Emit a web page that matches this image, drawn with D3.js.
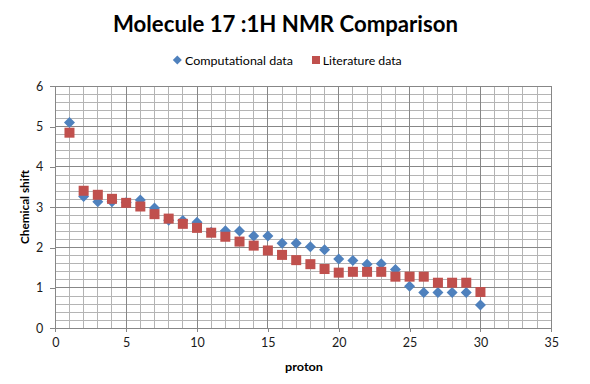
<!DOCTYPE html>
<html>
<head>
<meta charset="utf-8">
<script src="https://cdn.jsdelivr.net/npm/d3@7/dist/d3.min.js"></script>
<style>
  html, body { margin: 0; padding: 0; background: #fff; }
  svg { display: block; }
  text { font-family: Lato, "Open Sans", "Liberation Sans", sans-serif; }
</style>
</head>
<body>
<svg id="chart" width="590" height="384"></svg>
<script>
const titleText = "Molecule 17 :1H NMR Comparison";
const xAxisTitle = "proton";
const yAxisTitle = "Chemical shift";
const seriesNames = ["Computational data", "Literature data"];
const protons = [1,2,3,4,5,6,7,8,9,10,11,12,13,14,15,16,17,18,19,20,21,22,23,24,25,26,27,28,29,30];
const computational = [5.10,3.27,3.14,3.14,3.12,3.18,2.98,2.68,2.67,2.63,2.38,2.42,2.41,2.29,2.29,2.11,2.11,2.02,1.95,1.72,1.68,1.59,1.60,1.46,1.04,0.89,0.89,0.89,0.89,0.58];
const literature = [4.85,3.41,3.31,3.21,3.11,3.02,2.83,2.72,2.59,2.49,2.37,2.27,2.15,2.05,1.93,1.82,1.69,1.59,1.47,1.38,1.40,1.40,1.40,1.28,1.28,1.28,1.13,1.13,1.13,0.90];
const xTicks = [0,5,10,15,20,25,30,35];
const yTicks = [0,1,2,3,4,5,6];

const blue = "#4F81BD", red = "#C0504D";
const majorGrid = "#878787", minorGrid = "#b4b4b4";

const svg = d3.select("#chart");
const L = 55.3, R = 551.3, T = 86.3, B = 328.3;
const x = d3.scaleLinear().domain([0, 35]).range([L, R]);
const y = d3.scaleLinear().domain([0, 6]).range([B, T]);

// minor grid
const gMinor = svg.append("g").attr("stroke", minorGrid).attr("stroke-width", 1).attr("shape-rendering", "crispEdges");
gMinor.selectAll("line.vx").data(d3.range(1, 35).filter(v => v % 5 !== 0)).join("line")
  .attr("x1", d => x(d)).attr("x2", d => x(d)).attr("y1", T).attr("y2", B);
gMinor.selectAll("line.hy").data(d3.range(1, 30).filter(v => v % 5 !== 0).map(v => v / 5)).join("line")
  .attr("y1", d => y(d)).attr("y2", d => y(d)).attr("x1", L).attr("x2", R);

// major grid
const gMajor = svg.append("g").attr("stroke", majorGrid).attr("stroke-width", 1).attr("shape-rendering", "crispEdges");
gMajor.selectAll("line.v").data(xTicks.slice(1)).join("line")
  .attr("x1", d => x(d)).attr("x2", d => x(d)).attr("y1", T).attr("y2", B);
gMajor.selectAll("line.h").data(yTicks.slice(1)).join("line")
  .attr("y1", d => y(d)).attr("y2", d => y(d)).attr("x1", L).attr("x2", R);

// axes
const xAxis = d3.axisBottom(x).tickValues(xTicks).tickFormat(d3.format("d")).tickSize(4).tickPadding(6);
const gx = svg.append("g").attr("transform", `translate(0,${B})`).call(xAxis);
const yAxis = d3.axisLeft(y).tickValues(yTicks).tickFormat(d3.format("d")).tickSize(5).tickPadding(7);
const gy = svg.append("g").attr("transform", `translate(${L},0)`).call(yAxis);
[gx, gy].forEach(g => {
  g.selectAll(".domain").attr("stroke", majorGrid).attr("shape-rendering", "crispEdges");
  g.selectAll(".tick line").attr("stroke", majorGrid).attr("shape-rendering", "crispEdges");
  g.selectAll(".tick text").attr("fill", "#1a1a1a").style("font-size", "12.5px")
    .style("font-family", "Lato, 'Open Sans', sans-serif");
});

// markers
const diamond = (cx, cy, r) => `M${cx},${cy - r}L${cx + r},${cy}L${cx},${cy + r}L${cx - r},${cy}Z`;
svg.append("g").selectAll("path").data(protons).join("path")
  .attr("d", (d, i) => diamond(x(d), y(computational[i]), 5.5))
  .attr("fill", blue);
svg.append("g").selectAll("rect").data(protons).join("rect")
  .attr("x", (d) => x(d) - 5).attr("y", (d, i) => y(literature[i]) - 5)
  .attr("width", 10).attr("height", 10).attr("fill", red);

// title
svg.append("text").attr("x", 285.5).attr("y", 32).attr("text-anchor", "middle")
  .style("font-size", "22px").style("font-weight", "bold").attr("fill", "#000")
  .attr("textLength", 345).attr("lengthAdjust", "spacingAndGlyphs")
  .text(titleText);

// legend
svg.append("path").attr("d", diamond(177.3, 60, 4.5)).attr("fill", blue);
svg.append("text").attr("x", 185).attr("y", 64.5).style("font-size", "12px").attr("fill", "#000")
  .attr("textLength", 108).attr("lengthAdjust", "spacingAndGlyphs").text(seriesNames[0]);
svg.append("rect").attr("x", 312).attr("y", 56).attr("width", 8).attr("height", 8).attr("fill", red);
svg.append("text").attr("x", 322.7).attr("y", 64.5).style("font-size", "12px").attr("fill", "#000")
  .attr("textLength", 79).attr("lengthAdjust", "spacingAndGlyphs").text(seriesNames[1]);

// axis titles
svg.append("text").attr("x", 304).attr("y", 371).attr("text-anchor", "middle")
  .style("font-size", "12px").style("font-weight", "bold").attr("fill", "#000")
  .attr("textLength", 38).attr("lengthAdjust", "spacingAndGlyphs").text(xAxisTitle);
svg.append("text").attr("transform", "translate(29,207) rotate(-90)").attr("text-anchor", "middle")
  .style("font-size", "12px").style("font-weight", "bold").attr("fill", "#000")
  .attr("textLength", 74).attr("lengthAdjust", "spacingAndGlyphs").text(yAxisTitle);
</script>
</body>
</html>
